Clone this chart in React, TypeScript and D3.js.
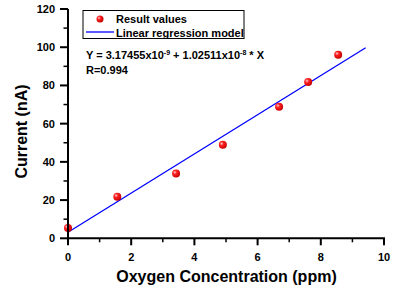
import React from 'react';
import * as d3 from 'd3';

// measured points
const oxygenPpm = [0, 1.56, 3.42, 4.9, 6.68, 7.6, 8.55];
const currentNa = [5.4, 21.8, 33.9, 48.9, 68.8, 81.8, 96.1];

// regression model (in nA / ppm)
const intercept = 3.17455;
const slope = 10.2511;
const fitRange = [0, 9.42];

const xTicks = [0, 2, 4, 6, 8, 10];
const xMinor = [1, 3, 5, 7, 9];
const yTicks = [0, 20, 40, 60, 80, 100, 120];
const yMinor = [10, 30, 50, 70, 90, 110];

const legendLabels = ['Result values', 'Linear regression model'];

const W = 395;
const H = 291;

export default function App() {
  const x = d3.scaleLinear().domain([0, 10]).range([68, 384]);
  const y = d3.scaleLinear().domain([0, 120]).range([238.3, 9]);

  const line = d3
    .line<number>()
    .x(d => x(d))
    .y(d => y(intercept + slope * d));

  const font = 'Arial, "Liberation Sans", sans-serif';

  return (
    <svg
      width={W}
      height={H}
      style={{position: 'absolute', left: 0, top: 0, background: '#fff'}}
      fontFamily={font}
      fontWeight="bold"
    >
      <defs>
        <radialGradient id="ball" cx="0.35" cy="0.35" r="0.7">
          <stop offset="0" stopColor="#ffd0d0" />
          <stop offset="0.35" stopColor="#ff2020" />
          <stop offset="1" stopColor="#c00000" />
        </radialGradient>
      </defs>

      {/* fit line */}
      <path d={line(fitRange) || ''} stroke="#0000ff" strokeWidth={1.3} fill="none" />

      {/* points */}
      {oxygenPpm.map((v, i) => (
        <circle key={i} cx={x(v)} cy={y(currentNa[i])} r={4} fill="url(#ball)" />
      ))}

      {/* y axis */}
      <line x1={x(0)} x2={x(0)} y1={y(0) + 1} y2={y(120)} stroke="#000" strokeWidth={2} />
      {yTicks.map(t => (
        <g key={t}>
          <line x1={x(0) - 8} x2={x(0)} y1={y(t)} y2={y(t)} stroke="#000" strokeWidth={2} />
          <text x={x(0) - 13} y={y(t) + 4} fontSize={11} textAnchor="end">
            {t}
          </text>
        </g>
      ))}
      {yMinor.map(t => (
        <line key={t} x1={x(0) - 4.5} x2={x(0)} y1={y(t)} y2={y(t)} stroke="#000" strokeWidth={1.5} />
      ))}

      {/* x axis */}
      <line x1={x(0) - 1} x2={x(10) + 1} y1={y(0)} y2={y(0)} stroke="#000" strokeWidth={2} />
      {xTicks.map(t => (
        <g key={t}>
          <line x1={x(t)} x2={x(t)} y1={y(0)} y2={y(0) + 7} stroke="#000" strokeWidth={2} />
          <text x={x(t)} y={y(0) + 22.5} fontSize={11} textAnchor="middle">
            {t}
          </text>
        </g>
      ))}
      {xMinor.map(t => (
        <line key={t} x1={x(t)} x2={x(t)} y1={y(0)} y2={y(0) + 4} stroke="#000" strokeWidth={1.5} />
      ))}

      {/* axis titles */}
      <text x={226.5} y={282} fontSize={16} textAnchor="middle">
        Oxygen Concentration (ppm)
      </text>
      <text transform="translate(27,131.5) rotate(-90)" fontSize={16} textAnchor="middle">
        Current (nA)
      </text>

      {/* legend */}
      <rect x={83} y={10.5} width={161} height={28} fill="#fff" stroke="#000" strokeWidth={1} />
      <circle cx={100} cy={19} r={3.5} fill="url(#ball)" />
      <text x={116} y={23} fontSize={11}>
        {legendLabels[0]}
      </text>
      <line x1={86} x2={114} y1={32} y2={32} stroke="#0000ff" strokeWidth={1.3} />
      <text x={116} y={36.5} fontSize={11}>
        {legendLabels[1]}
      </text>

      {/* equation */}
      <text x={86} y={59} fontSize={11}>
        Y = 3.17455x10
        <tspan dy={-4} fontSize={7}>-9</tspan>
        <tspan dy={4}> + 1.02511x10</tspan>
        <tspan dy={-4} fontSize={7}>-8</tspan>
        <tspan dy={4}> * X</tspan>
      </text>
      <text x={86} y={74} fontSize={11}>
        R=0.994
      </text>
    </svg>
  );
}
